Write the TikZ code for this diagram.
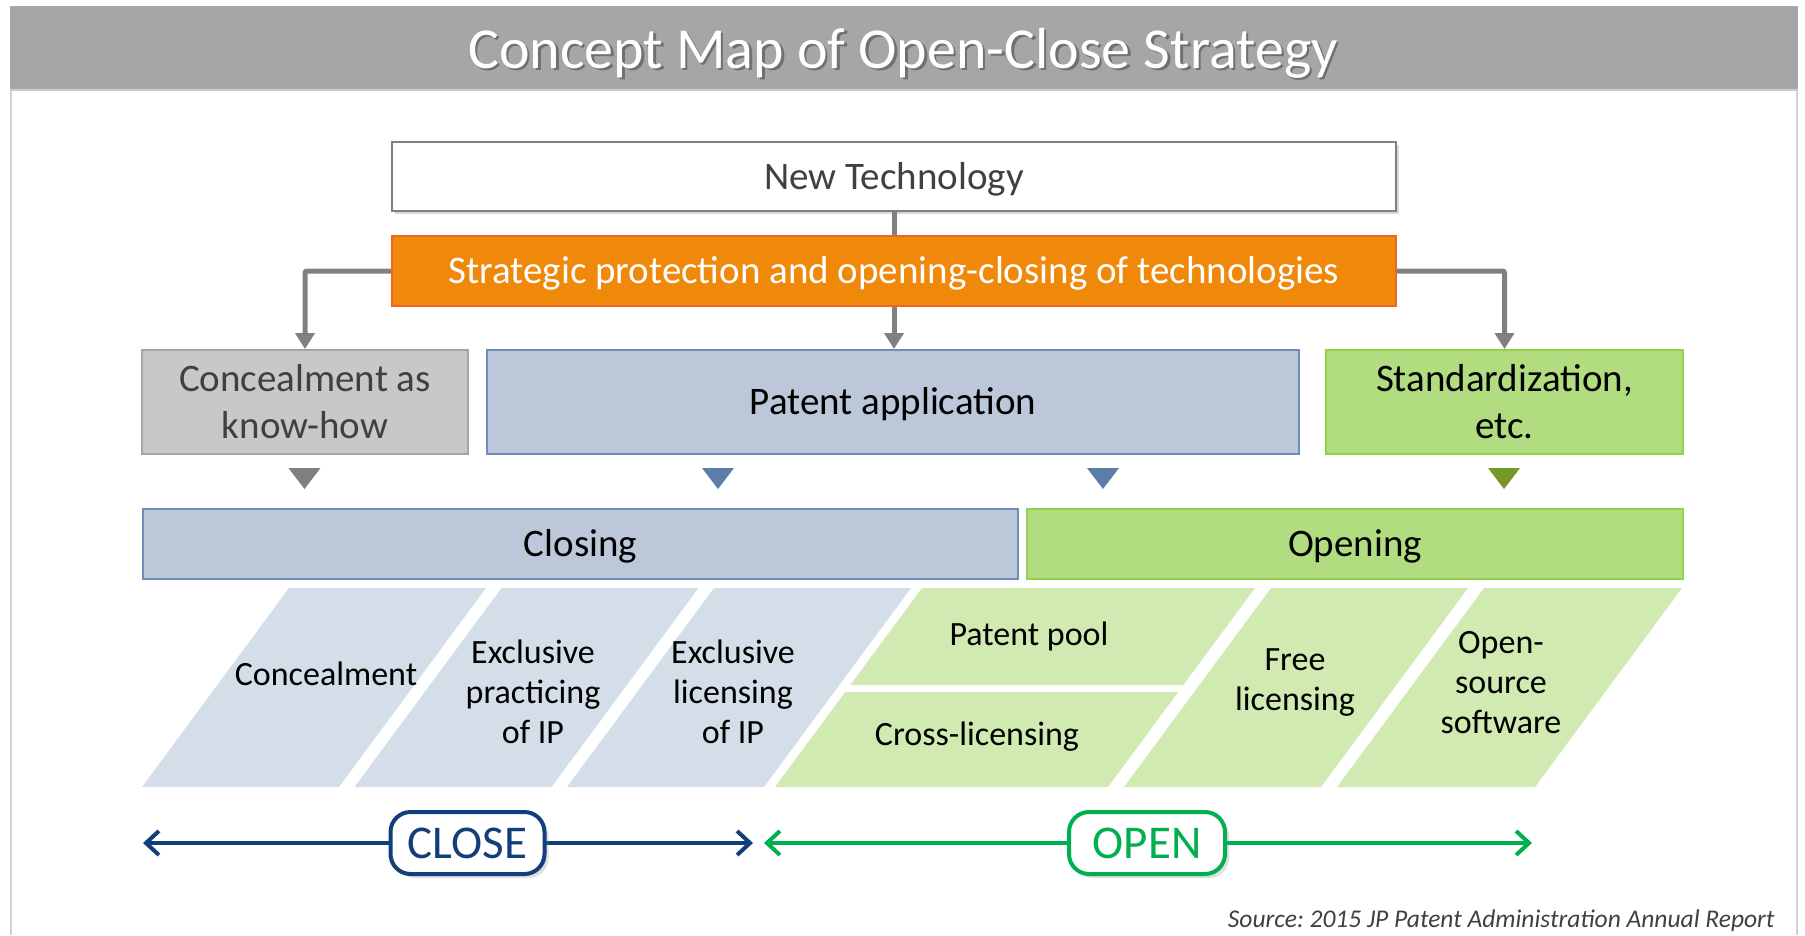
\documentclass[tikz,border=0pt]{standalone}
\usepackage{fontspec}
\setmainfont{Carlito}
\frenchspacing
\usetikzlibrary{arrows.meta,shadows,shapes.misc}
\definecolor{hdr}{HTML}{A6A6A6}
\definecolor{frameln}{HTML}{D0D0D0}
\definecolor{conn}{HTML}{808080}
\definecolor{orng}{HTML}{F0880A}
\definecolor{orngb}{HTML}{F0661E}
\definecolor{kfill}{HTML}{C8C8C8}
\definecolor{kline}{HTML}{A5A5A5}
\definecolor{bfill}{HTML}{BCC8DA}
\definecolor{bline}{HTML}{6D8EBA}
\definecolor{gfill}{HTML}{B1DD80}
\definecolor{gline}{HTML}{92D050}
\definecolor{pb}{HTML}{D4DEE8}
\definecolor{pg}{HTML}{D0EAB2}
\definecolor{tribl}{HTML}{5B7EA8}
\definecolor{trigr}{HTML}{76962A}
\definecolor{trigy}{HTML}{7F7F7F}
\definecolor{closec}{HTML}{123F7B}
\definecolor{openc}{HTML}{00B050}
\definecolor{txt}{HTML}{404040}
\tikzset{
  big/.style={font=\fontsize{39}{47}\selectfont},
  small/.style={font=\fontsize{34}{40}\selectfont, align=center, text=black},
  boxbase/.style={big, draw, line width=2pt, inner sep=0pt, align=center},
  oneline/.style={text height=28pt, text depth=3pt},
  connector/.style={conn, line width=5pt, rounded corners=2pt, -{Triangle[length=16pt,width=19pt]}},
  tag/.style={draw, line width=4pt, fill=white, rounded corners=20pt, inner sep=0pt,
    minimum height=62pt, font=\fontsize{47}{56}\selectfont,
    drop shadow={shadow xshift=4pt, shadow yshift=-4pt, opacity=0.25}},
  dbl/.style={line width=4pt, {Straight Barb[length=13pt,width=24pt]}-{Straight Barb[length=13pt,width=24pt]}}
}
\begin{document}
\begin{tikzpicture}[x=1pt,y=-1pt]
\useasboundingbox (0,0) rectangle (1805,935);
% header and frame
\fill[hdr] (10,6) rectangle (1797.5,90);
\draw[frameln, line width=2pt] (11,90) -- (11,935);
\draw[frameln, line width=2pt] (1797,90) -- (1797,935);
\draw[color=black!20, line width=1.5pt] (10,90) -- (1797.5,90);
\node[anchor=base, text=black!70, opacity=0.6, font=\fontsize{58}{70}\selectfont] (titleshadow) at (905.5,70.5) {Concept Map of Open-Close Strategy};
\node[anchor=base, text=white, font=\fontsize{58}{70}\selectfont] (title) at (903,68) {Concept Map of Open-Close Strategy};

% top boxes
\node[boxbase, oneline, draw=black!50, line width=1.5pt, fill=white, text=txt, minimum width=1004pt, minimum height=69pt,
  drop shadow={shadow xshift=3pt, shadow yshift=-3pt, opacity=0.3}] (newtech) at (894,176.5) {New Technology};
\node[boxbase, oneline, draw=orngb, fill=orng, text=white, minimum width=1004pt, minimum height=70pt] (orange) at (894,271) {Strategic protection and opening-closing of technologies};

\node[boxbase, draw=kline, fill=kfill, text=txt, minimum width=326pt, minimum height=104pt] (know) at (305,402) {Concealment as\\know-how};
\node[boxbase, oneline, draw=bline, fill=bfill, text=black, minimum width=812pt, minimum height=104pt] (pat) at (893,402) {Patent application};
\node[boxbase, draw=gline, fill=gfill, text=black, minimum width=357pt, minimum height=104pt] (std) at (1504.5,402) {Standardization,\\etc.};

% connectors
\draw[conn, line width=5pt] (newtech.south) -- (orange.north);
\draw[connector] (orange.west) -| (know.north);
\draw[connector] (orange.east) -| (std.north);
\draw[connector] (orange.south) -- (orange.south |- pat.north);

% small triangles
\fill[trigy] (288.5,468) -- (320.5,468) -- (304.5,489) -- cycle;
\fill[tribl] (702,468) -- (734,468) -- (718,489) -- cycle;
\fill[tribl] (1087,468) -- (1119,468) -- (1103,489) -- cycle;
\fill[trigr] (1488,468) -- (1520,468) -- (1504,489) -- cycle;

% closing / opening
\node[boxbase, oneline, draw=bline, fill=bfill, text=black, minimum width=875pt, minimum height=70pt] (closing) at (580.5,544) {Closing};
\node[boxbase, oneline, draw=gline, fill=gfill, text=black, minimum width=656pt, minimum height=70pt] (opening) at (1355,544) {Opening};

% parallelograms
\fill[pb] (142,787) -- (339,787) -- (486,588) -- (289,588) -- cycle;
\fill[pb] (354.5,787) -- (551.5,787) -- (698.5,588) -- (501.5,588) -- cycle;
\fill[pb] (567,787) -- (764,787) -- (911,588) -- (714,588) -- cycle;
\fill[pg] (850.3,685) -- (1183.3,685) -- (1255,588) -- (922,588) -- cycle;
\fill[pg] (775,787) -- (1108,787) -- (1178.2,692) -- (845.2,692) -- cycle;
\fill[pg] (1124,787) -- (1321,787) -- (1468,588) -- (1271,588) -- cycle;
\fill[pg] (1337,787) -- (1535,787) -- (1682,588) -- (1484,588) -- cycle;

\node[small] (t1) at (326,674) {Concealment};
\node[small] (t2) at (533,692) {Exclusive\\practicing\\of IP};
\node[small] (t3) at (733,692) {Exclusive\\licensing\\of IP};
\node[small] (t4) at (1029,636) {Patent pool};
\node[small] (t5) at (977,737) {Cross-licensing};
\node[small] (t6) at (1295,683) {Free\\licensing};
\node[small] (t7) at (1501,683) {Open-\\source\\software};

% close / open arrows
\coordinate (cl1) at (143,843);
\coordinate (cl2) at (753,843);
\coordinate (op1) at (764,843);
\coordinate (op2) at (1532,843);
\draw[closec, dbl] (cl1) -- (cl2);
\draw[openc, dbl] (op1) -- (op2);
\node[tag, draw=closec, text=closec, minimum width=154pt] (close) at (467.5,843) {CLOSE};
\node[tag, draw=openc, text=openc, minimum width=156pt] (open) at (1147,843) {OPEN};

% source
\node[anchor=base east, text=txt, font=\itshape\fontsize{25.5}{30}\selectfont] (src) at (1778,927) {Source: 2015 JP Patent Administration Annual Report};
\end{tikzpicture}
\end{document}
